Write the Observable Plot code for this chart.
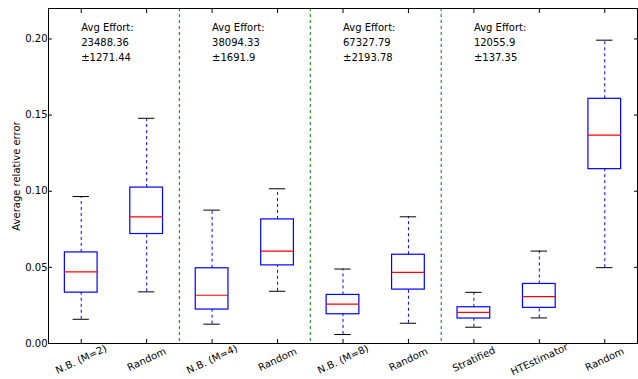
<!DOCTYPE html>
<html>
<head>
<meta charset="utf-8">
<script src="https://cdn.jsdelivr.net/npm/d3@7"></script>
<script src="https://cdn.jsdelivr.net/npm/@observablehq/plot@0.6"></script>
<style>
  html, body { margin: 0; padding: 0; background: #fff; }
  svg { display: block; }
</style>
</head>
<body>
<div id="chart"></div>
<script>
const categories = ["N.B. (M=2)", "Random", "N.B. (M=4)", "Random", "N.B. (M=8)", "Random", "Stratified", "HTEstimator", "Random"];
const whiskerLow  = [0.0159, 0.0339, 0.0127, 0.0343, 0.0059, 0.0133, 0.0107, 0.0168, 0.0498];
const q1          = [0.0334, 0.0719, 0.0223, 0.0513, 0.0192, 0.0354, 0.0164, 0.0234, 0.1145];
const median      = [0.0470, 0.0832, 0.0317, 0.0607, 0.0258, 0.0467, 0.0205, 0.0308, 0.1368];
const q3          = [0.0598, 0.1024, 0.0494, 0.0815, 0.0319, 0.0583, 0.0238, 0.0391, 0.1607];
const whiskerHigh = [0.0965, 0.1479, 0.0876, 0.1016, 0.0489, 0.0832, 0.0336, 0.0607, 0.1992];
const groupSeparators = [2.5, 4.5, 6.5];
const effortPos = [1, 3, 5, 7];
const effortMean = ["23488.36", "38094.33", "67327.79", "12055.9"];
const effortErr = ["±1271.44", "±1691.9", "±2193.78", "±137.35"];
const yTicks = [0, 0.05, 0.10, 0.15, 0.20];

const boxes = categories.map((c, i) => ({
  pos: i + 1, label: c,
  lo: whiskerLow[i], q1: q1[i], med: median[i], q3: q3[i], hi: whiskerHigh[i]
}));
const notes = effortPos.map((p, i) => ({pos: p, text: `Avg Effort:\n${effortMean[i]}\n${effortErr[i]}`}));
const positions = boxes.map(d => d.pos);

const halfBox = 0.25, halfCap = 0.125;
const blank = () => "";

const chart = Plot.plot({
  width: 638,
  height: 379,
  marginLeft: 48,
  marginRight: 1,
  marginTop: 8,
  marginBottom: 36,
  style: {fontFamily: "DejaVu Sans", fontSize: "10px", color: "#000", background: "#fff"},
  x: {domain: [0.5, 9.5], axis: null},
  y: {domain: [0, 0.22], axis: null},
  marks: [
    Plot.ruleX(groupSeparators, {stroke: "#008000", strokeDasharray: "3,3", strokeWidth: 1}),
    Plot.ruleX(boxes, {x: "pos", y1: "lo", y2: "q1", stroke: "#0000ff", strokeDasharray: "3,3", strokeWidth: 1}),
    Plot.ruleX(boxes, {x: "pos", y1: "q3", y2: "hi", stroke: "#0000ff", strokeDasharray: "3,3", strokeWidth: 1}),
    Plot.ruleY(boxes, {y: "lo", x1: d => d.pos - halfCap, x2: d => d.pos + halfCap, stroke: "#000", strokeWidth: 1}),
    Plot.ruleY(boxes, {y: "hi", x1: d => d.pos - halfCap, x2: d => d.pos + halfCap, stroke: "#000", strokeWidth: 1}),
    Plot.rect(boxes, {x1: d => d.pos - halfBox, x2: d => d.pos + halfBox, y1: "q1", y2: "q3", stroke: "#0000ff", fill: "none", strokeWidth: 1.2}),
    Plot.ruleY(boxes, {y: "med", x1: d => d.pos - halfBox, x2: d => d.pos + halfBox, stroke: "#ff0000", strokeWidth: 1.2}),
    Plot.text(notes, {x: "pos", y: 0.218, text: "text", textAnchor: "start", lineAnchor: "top", lineHeight: 1.5, fontSize: 10, dy: 9}),
    Plot.axisY({ticks: yTicks, tickFormat: d3.format(".2f"), tickSize: -4, tickPadding: 5, label: null, fontSize: 10}),
    Plot.axisY({ticks: yTicks, anchor: "right", tickSize: -4, tickFormat: blank, label: null}),
    Plot.axisX({ticks: positions, tickSize: -4, tickFormat: blank, label: null}),
    Plot.axisX({ticks: positions, anchor: "top", tickSize: -4, tickFormat: blank, label: null}),
    Plot.text(boxes, {x: "pos", text: "label", frameAnchor: "bottom", dy: 16, rotate: -25, textAnchor: "middle", lineAnchor: "middle", fontSize: 10}),
    Plot.frame({stroke: "#000", strokeWidth: 1}),
    Plot.text(["Average relative error"], {frameAnchor: "left", dx: -32, rotate: -90, textAnchor: "middle", lineAnchor: "middle", fontSize: 10})
  ]
});
document.getElementById("chart").appendChild(chart);
</script>
</body>
</html>
